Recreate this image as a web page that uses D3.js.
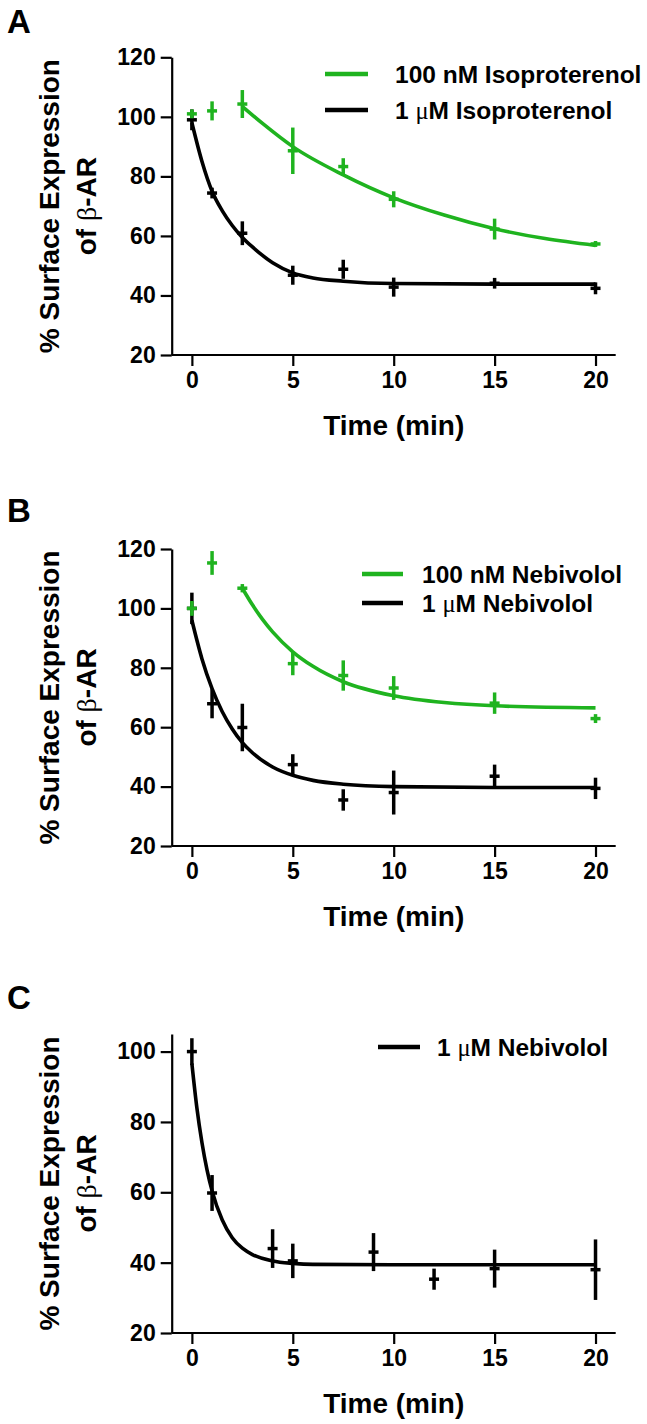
<!DOCTYPE html>
<html><head><meta charset="utf-8">
<script src="https://cdn.jsdelivr.net/npm/d3@7/dist/d3.min.js"></script>
<style>
body{margin:0;background:#fff}
text{font-family:"Liberation Sans",Arial,sans-serif;font-weight:bold;fill:#000}
</style>
</head><body>
<svg id="fig" width="647" height="1424"></svg>
<script>
// ---------- data ----------
const xTicks = [0, 5, 10, 15, 20];
const yTicksAB = [20, 40, 60, 80, 100, 120];
const yTicksC = [20, 40, 60, 80, 100];

// Panel A
const isoLowLabel = "100 nM Isoproterenol";
const isoLowT = [0, 1, 2.5, 5, 7.5, 10, 15, 20];
const isoLowMean = [101, 102, 104.3, 88.6, 83.3, 72.3, 62.3, 57.3];
const isoLowErr = [1.5, 3.2, 4.7, 7.8, 2.8, 2.7, 3.5, 1];
const isoLowFitT = [2.5, 3.5, 5, 7.5, 10, 12.5, 15, 17.5, 20];
const isoLowFitV = [103.5, 97.8, 90, 80.5, 72.8, 67, 62.4, 59.1, 56.8];

const isoHighLabel = "1 μM Isoproterenol";
const isoHighT = [0, 1, 2.5, 5, 7.5, 10, 15, 20];
const isoHighMean = [99, 74.4, 60.9, 46.8, 48.8, 42.8, 44.1, 42.4];
const isoHighErr = [3.5, 1.8, 4, 3.2, 3.2, 3.2, 1.8, 2];
const isoHighFitT = [0, 0.5, 1, 1.5, 2, 2.5, 3, 4, 5, 6, 7.5, 10, 15, 20];
const isoHighFitV = [98, 85, 75, 68.5, 63.5, 59.5, 56.3, 51, 47.6, 45.9, 44.8, 44, 43.8, 43.8];

// Panel B
const nebLowLabel = "100 nM Nebivolol";
const nebLowT = [0, 1, 2.5, 5, 7.5, 10, 15, 20];
const nebLowMean = [100, 115.3, 106.8, 81.4, 77.4, 73.2, 68.1, 62.9];
const nebLowErr = [2.5, 4, 1.4, 3.9, 5.1, 4, 3.6, 1.5];
const nebLowFitT = [2.5, 3, 3.5, 4, 5, 6, 7.5, 10, 12.5, 15, 20];
const nebLowFitV = [106.8, 101.2, 96.3, 92.1, 85.4, 80.5, 75.3, 70.6, 68.3, 67.2, 66.5];

const nebHighLabel = "1 μM Nebivolol";
const nebHighT = [0, 1, 2.5, 5, 7.5, 10, 15, 20];
const nebHighMean = [100, 67.9, 59.9, 47.4, 35.5, 38, 43.5, 39.4];
const nebHighErr = [5.3, 4.9, 8, 3.5, 3.6, 7.4, 3.9, 3.6];
const nebHighFitT = [0, 0.5, 1, 1.5, 2, 2.5, 3, 4, 5, 6, 7.5, 10, 15, 20];
const nebHighFitV = [96, 83, 73, 65.3, 59.4, 54.8, 51.4, 46.6, 43.8, 42.1, 40.8, 40, 39.7, 39.7];

// Panel C
const nebCLabel = "1 μM Nebivolol";
const nebCT = [0, 1, 4, 5, 9, 12, 15, 20];
const nebCMean = [100, 59.8, 44, 40.5, 43, 35.3, 38.3, 38];
const nebCErr = [3.8, 5.1, 5.5, 4.9, 5.4, 3, 5.4, 8.6];
const nebCFitT = [0, 0.25, 0.5, 0.75, 1, 1.5, 2, 2.5, 3, 4, 5, 6, 10, 20];
const nebCFitV = [96.6, 83.9, 74.1, 66.4, 60.4, 52.2, 47.1, 44.1, 42.3, 40.5, 39.8, 39.5, 39.4, 39.4];

// ---------- styling / layout ----------
const GREEN = "#1fb31f";
const BLACK = "#000";
const xDomain = [-1, 21];
const axisLeftX = 171.7, axisRightX = 615.7;

const svg = d3.select("#fig");
svg.append("rect").attr("width", 647).attr("height", 1424).attr("fill", "#fff");

function zip(t, m, e) { return t.map((d, i) => ({ t: d, m: m[i], e: e ? e[i] : 0 })); }

function panel(cfg) {
  const g = svg.append("g");
  const x = d3.scaleLinear().domain(xDomain).range([axisLeftX, axisRightX]);
  const y = d3.scaleLinear().domain(cfg.yDomain).range([cfg.yBottom, cfg.yTop]);

  // panel letter
  g.append("text").attr("x", 7).attr("y", cfg.letterY).attr("font-size", 33).text(cfg.letter);

  // axes
  const xa = g.append("g").attr("transform", `translate(0,${cfg.yBottom})`)
    .call(d3.axisBottom(x).tickValues(xTicks).tickSizeOuter(0).tickSizeInner(11).tickPadding(6).tickFormat(d3.format("d")));
  const ya = g.append("g").attr("transform", `translate(${axisLeftX},0)`)
    .call(d3.axisLeft(y).tickValues(cfg.yTicks).tickSizeOuter(0).tickSizeInner(11).tickPadding(5).tickFormat(d3.format("d")));
  [xa, ya].forEach(a => {
    a.select(".domain").attr("stroke", "#000").attr("stroke-width", 2.2);
    a.selectAll(".tick line").attr("stroke", "#000").attr("stroke-width", 2.2);
    a.selectAll(".tick text").attr("font-size", 23).attr("font-family", '"Liberation Sans",Arial,sans-serif').attr("font-weight", "bold").attr("fill", "#000");
  });
  xa.select(".domain").attr("d", `M${axisLeftX},0H${axisRightX}`);

  // axis titles
  g.append("text").attr("x", x(10)).attr("y", cfg.yBottom + 80).attr("text-anchor", "middle")
    .attr("font-size", 28).text("Time (min)");
  const cy = (cfg.yTop + cfg.yBottom) / 2;
  g.append("text").attr("transform", `translate(59,${cy}) rotate(-90)`).attr("text-anchor", "middle")
    .attr("font-size", 28).text("% Surface Expression");
  const t2 = g.append("text").attr("transform", `translate(96,${cy}) rotate(-90)`).attr("text-anchor", "middle")
    .attr("font-size", 28);
  t2.append("tspan").text("of ");
  t2.append("tspan").attr("font-family", '"Liberation Serif",serif').attr("font-weight", "normal").text("β");
  t2.append("tspan").text("-AR");

  const line = d3.line().x(d => x(d.t)).y(d => y(d.m)).curve(d3.curveMonotoneX);

  cfg.series.forEach(s => {
    const pts = zip(s.t, s.m, s.e);
    const fit = zip(s.fitT, s.fitV);
    const sg = g.append("g");
    sg.append("path").datum(fit).attr("d", line).attr("fill", "none")
      .attr("stroke", s.color).attr("stroke-width", 3.6);
    sg.selectAll(".eb").data(pts).join("line")
      .attr("x1", d => x(d.t)).attr("x2", d => x(d.t))
      .attr("y1", d => y(d.m - d.e)).attr("y2", d => y(d.m + d.e))
      .attr("stroke", s.color).attr("stroke-width", 3.5);
    sg.selectAll(".mk").data(pts).join("line")
      .attr("x1", d => x(d.t) - 5).attr("x2", d => x(d.t) + 5)
      .attr("y1", d => y(d.m)).attr("y2", d => y(d.m))
      .attr("stroke", s.color).attr("stroke-width", 3.5);
  });

  // legend
  cfg.legend.forEach((l, i) => {
    const ly = cfg.legY[i];
    g.append("line").attr("x1", cfg.legX1).attr("x2", cfg.legX2).attr("y1", ly).attr("y2", ly)
      .attr("stroke", l.color).attr("stroke-width", 4.5);
    const tx = g.append("text").attr("x", cfg.legTextX).attr("y", ly + 8.5).attr("font-size", 24.5);
    const parts = l.label.split("μ");
    if (parts.length > 1) {
      tx.append("tspan").text(parts[0]);
      tx.append("tspan").attr("font-family", '"Liberation Serif",serif').attr("font-weight", "normal").text("μ");
      tx.append("tspan").text(parts[1]);
    } else tx.text(l.label);
  });
}

panel({
  letter: "A", letterY: 33, yTop: 57.3, yBottom: 355, yDomain: [20, 120], yTicks: yTicksAB,
  series: [
    { color: BLACK, t: isoHighT, m: isoHighMean, e: isoHighErr, fitT: isoHighFitT, fitV: isoHighFitV },
    { color: GREEN, t: isoLowT, m: isoLowMean, e: isoLowErr, fitT: isoLowFitT, fitV: isoLowFitV }
  ],
  legend: [{ color: GREEN, label: isoLowLabel }, { color: BLACK, label: isoHighLabel }],
  legX1: 325, legX2: 368, legTextX: 395, legY: [74, 110]
});

panel({
  letter: "B", letterY: 522, yTop: 549, yBottom: 846, yDomain: [20, 120], yTicks: yTicksAB,
  series: [
    { color: BLACK, t: nebHighT, m: nebHighMean, e: nebHighErr, fitT: nebHighFitT, fitV: nebHighFitV },
    { color: GREEN, t: nebLowT, m: nebLowMean, e: nebLowErr, fitT: nebLowFitT, fitV: nebLowFitV }
  ],
  legend: [{ color: GREEN, label: nebLowLabel }, { color: BLACK, label: nebHighLabel }],
  legX1: 362, legX2: 403, legTextX: 422, legY: [574, 603]
});

panel({
  letter: "C", letterY: 1009, yTop: 1034, yBottom: 1333, yDomain: [20, 105], yTicks: yTicksC,
  series: [
    { color: BLACK, t: nebCT, m: nebCMean, e: nebCErr, fitT: nebCFitT, fitV: nebCFitV }
  ],
  legend: [{ color: BLACK, label: nebCLabel }],
  legX1: 378, legX2: 420, legTextX: 437, legY: [1047]
});
</script>
</body></html>
